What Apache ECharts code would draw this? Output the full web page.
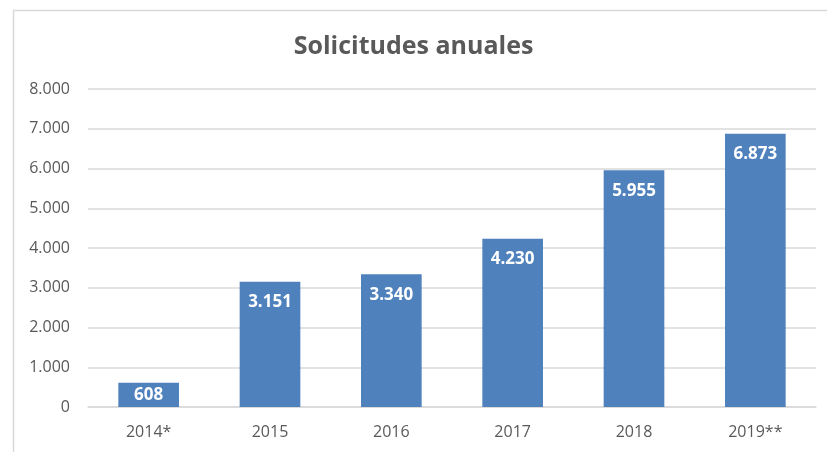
<!DOCTYPE html>
<html><head><meta charset="utf-8">
<script src="https://cdn.jsdelivr.net/npm/echarts@6/dist/echarts.min.js"></script>
<style>html,body{margin:0;padding:0;background:#fff}#c{width:827px;height:452px}</style>
</head><body><div id="c"></div>
<script>
const categories = ['2014*', '2015', '2016', '2017', '2018', '2019**'];
const values = [608, 3151, 3340, 4230, 5955, 6873];
const yTicks = [0, 1000, 2000, 3000, 4000, 5000, 6000, 7000, 8000];

function fmt(v) { return String(v).replace(/\B(?=(\d{3})+(?!\d))/g, '.'); }

const chart = echarts.init(document.getElementById('c'));
chart.setOption({
  animation: false,
  backgroundColor: '#fff',
  graphic: [{
    type: 'rect', left: 11, top: 8, shape: { width: 1000, height: 1000 },
    style: { fill: 'none', stroke: '#d9d9d9', lineWidth: 1.5 }, z: -1
  }],
  title: {
    text: 'Solicitudes anuales', left: 'center', top: 29,
    textStyle: { fontFamily: 'Open Sans', fontSize: 25, fontWeight: 'bold', color: '#595959' }
  },
  grid: { left: 88, right: 11, top: 89, bottom: 45 },
  xAxis: {
    type: 'category', data: categories,
    axisLine: { lineStyle: { color: '#d9d9d9', width: 1.5 } },
    axisTick: { show: false },
    axisLabel: { color: '#595959', fontFamily: 'Open Sans', fontSize: 16, margin: 17 }
  },
  yAxis: {
    type: 'value', min: yTicks[0], max: yTicks[yTicks.length - 1], interval: 1000,
    axisLine: { show: false }, axisTick: { show: false },
    splitLine: { lineStyle: { color: '#d9d9d9', width: 1.5 } },
    axisLabel: { color: '#595959', fontFamily: 'Open Sans', fontSize: 16, margin: 18, formatter: fmt }
  },
  series: [{
    type: 'bar', barWidth: '50%',
    data: values.map(v => v < 1000 ? { value: v, label: { position: 'inside' } } : v),
    itemStyle: { color: '#4f81bd' },
    label: {
      show: true, position: 'insideTop', distance: 12,
      color: '#fff', fontFamily: 'Open Sans', fontSize: 17, fontWeight: 'bold',
      formatter: p => fmt(p.value)
    }
  }]
});
</script></body></html>
